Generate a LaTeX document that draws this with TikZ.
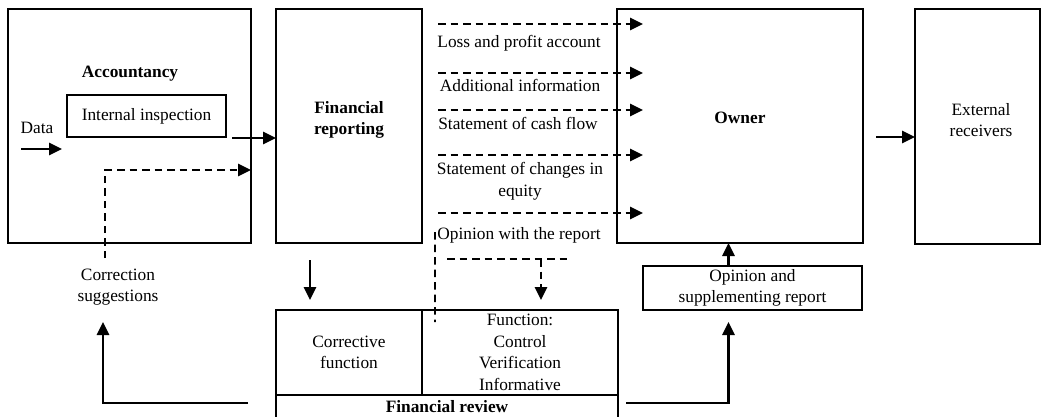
\documentclass[tikz,border=0pt]{standalone}
\usepackage{fontspec}
\setmainfont{Liberation Serif}
\usetikzlibrary{arrows.meta,positioning,calc}
\newcommand\fsz{\fontsize{10.4}{13}\selectfont}

\begin{document}
\begin{tikzpicture}[x=.6pt,y=-.6pt,>={Triangle[length=7.8pt,width=7.4pt]},font=\fsz,
  box/.style 2 args={draw,line width=1.3pt,inner sep=0pt,outer sep=0pt,
    minimum width=#1*.6pt,minimum height=#2*.6pt,align=center},
  txt/.style={inner sep=0pt,align=center},
  bold/.style={font=\fsz\bfseries},
  flow/.style={->,line width=1.3pt},
  dline/.style={line width=1.1pt,dash pattern=on 4.5pt off 3pt},
  doc/.style={dline,->}]
\useasboundingbox (0,0) rectangle (1042,416);
\clip (0,0) rectangle (1042,416);
% upper row
\node[box={243}{234}] (acc) at (129.5,126) {};
\node[txt,bold] (acct) at (130,74) {Accountancy};
\node[box={159}{42}] (insp) at (146.5,116) {Internal inspection};
\node[txt] (data) at (37,128) {Data};
\node[box={146}{234}] (rep) at (349,126) {};
\node[txt,bold] (rept) at (349,120) {Financial\\reporting};
\node[box={246}{234}] (own) at (740,126) {};
\node[txt,bold] (ownt) at (740,118) {Owner};
\node[box={125}{235}] (ext) at (977.5,126.5) {};
\node[txt] (extt) at (981,120) {External\\receivers};
% statements
\node[txt] (lpa) at (519,43) {Loss and profit account};
\node[txt] (add) at (520,85) {Additional information};
\node[txt] (cash) at (518,123) {Statement of cash flow};
\node[txt] (chg) at (520,181) {Statement of changes in\\equity};
\node[txt] (opw) at (519,235) {Opinion with the report};
% lower row
\node[txt] (corr) at (118,287) {Correction\\suggestions};
\node[box={146}{85}] (cor) at (349,352.5) {Corrective\\function};
\node[box={196}{85},right=0pt of cor] (fun) {Function:\\Control\\Verification\\Informative};
\node[box={342}{24},bold,below=0pt of cor.south west,anchor=north west] (rev) {Financial review};
\node[box={219}{44}] (opi) at (752.5,288) {Opinion and\\supplementing report};
\coordinate (datain) at (21,149);
\coordinate (csin) at (103,322);
\coordinate (csout) at (105,258);

\draw[flow] (datain) -- ++(41,0);
\draw[flow] ($(insp.south east)+(6,1)$) -- ($(insp.south east -| rep.west)+(0,1)$);
\draw[doc] (csout) |- (acc.east |- 0,170);
\foreach \y in {24,73,110,155,213}
  \draw[doc] (438,\y) -- ($(own.west |- 0,\y)+(26,0)$);
\draw[flow] ($(own.east)+(13,11)$) -- ($(ext.west)+(0,10.5)$);
\draw[flow] ($(rep.south)+(-39,17)$) -- ($(cor.north)+(-39,-10)$);
\draw[dline] ($(opw.west)+(-2,-3)$) -- ($(fun.north west)+(13,12)$);
\draw[dline] (447,259) -- (567,259);
\draw[doc] (541,259) -- ($(fun.north)+(21,-10)$);
\draw[flow] ($(rev.west)+(-28,-4)$) -| (csin);
\draw[flow] ($(rev.east)+(8,-4)$) -| ($(opi.south)+(-24,12)$);
\draw[flow] ($(opi.north)+(-24,0)$) -- ($(own.south)+(-11.5,0)$);
\end{tikzpicture}
\end{document}
